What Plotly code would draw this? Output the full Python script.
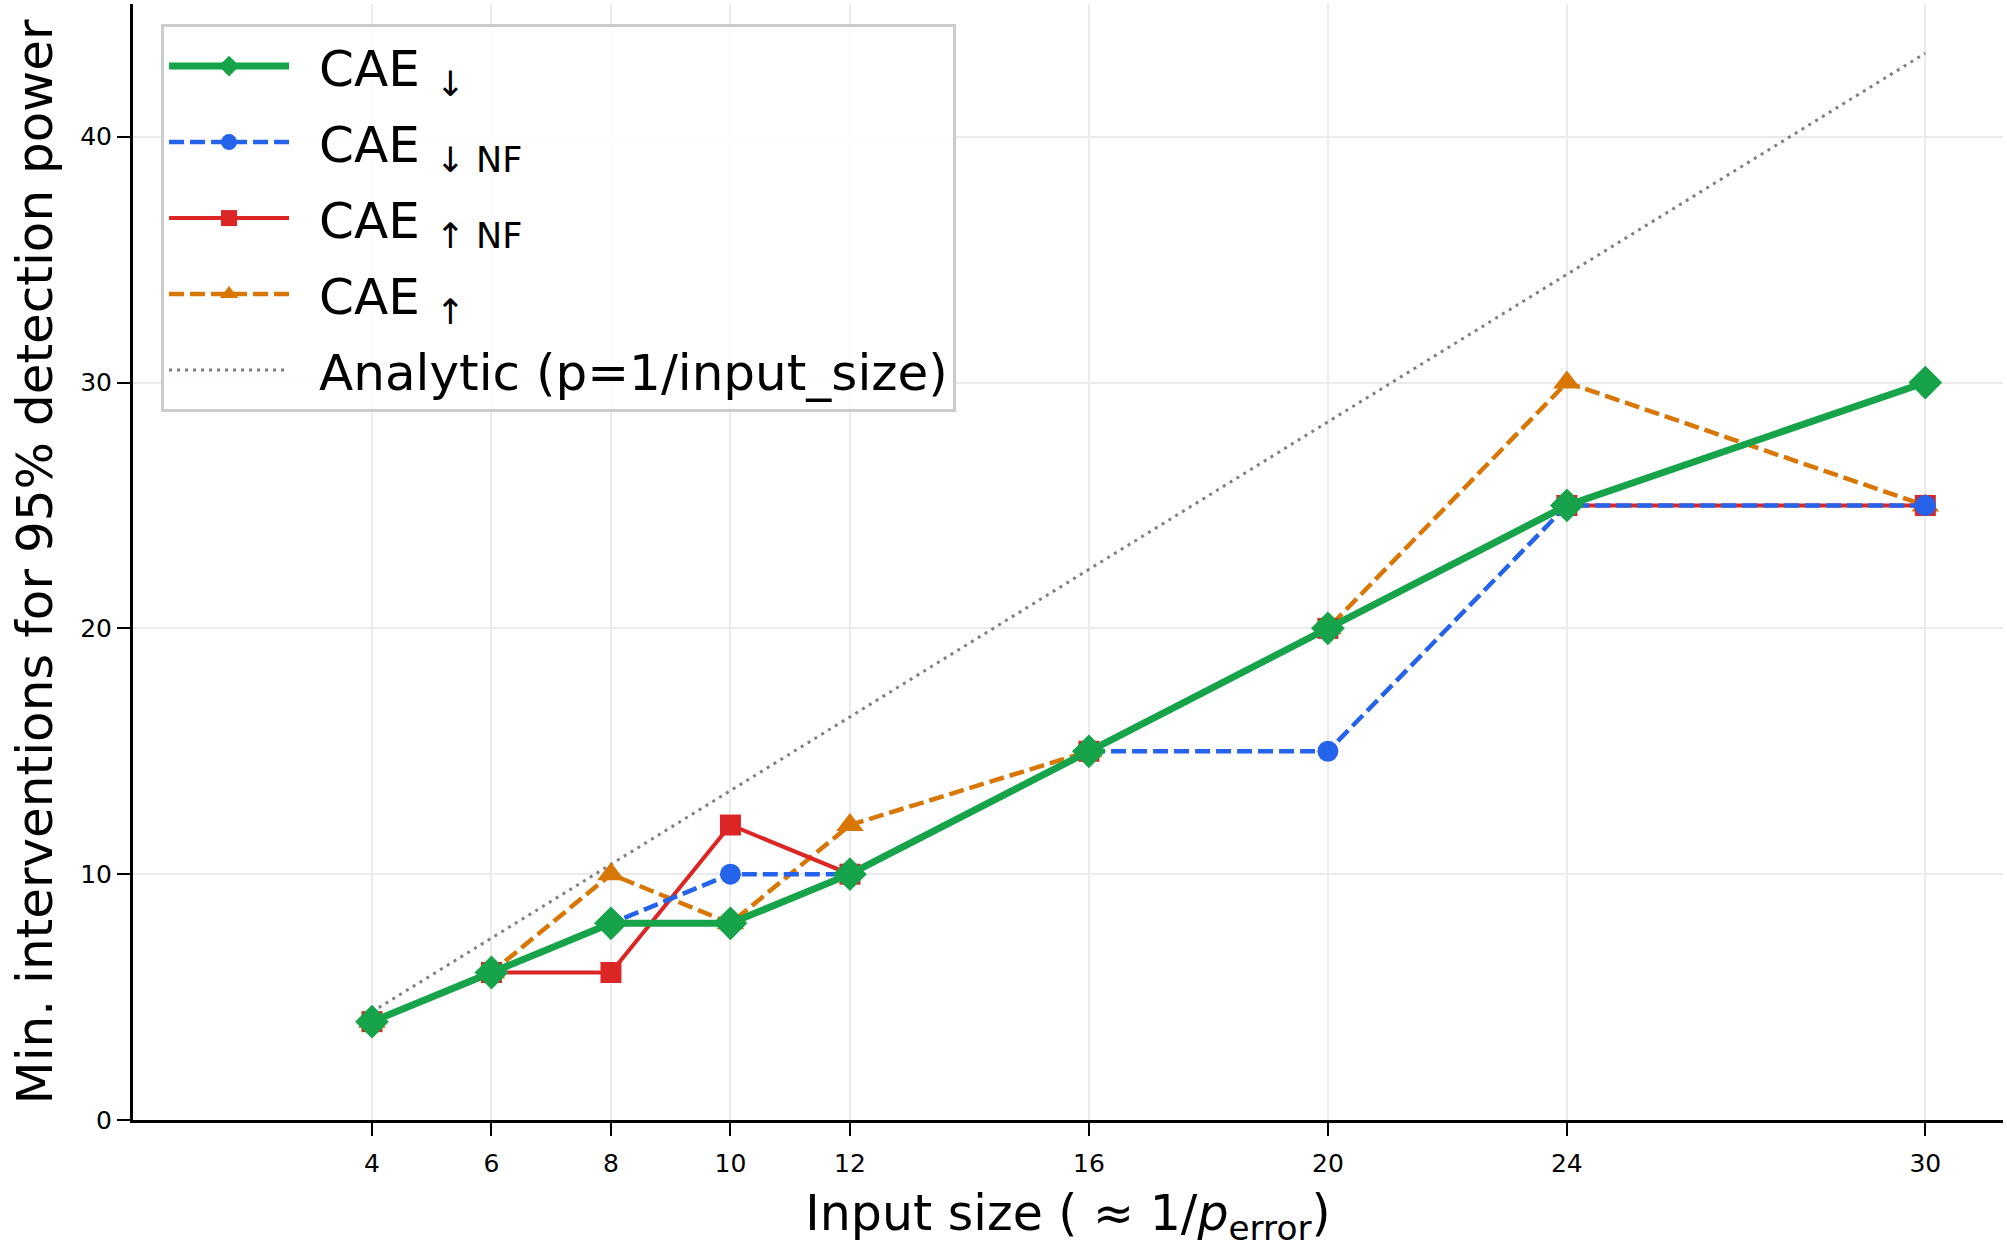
import plotly.graph_objects as go

# ---- data ----
input_size = [4, 6, 8, 10, 12, 16, 20, 24, 30]
cae_down = [4, 6, 8, 8, 10, 15, 20, 25, 30]
cae_down_nf = [4, 6, 8, 10, 10, 15, 15, 25, 25]
cae_up_nf = [4, 6, 6, 12, 10, 15, 20, 25, 25]
cae_up = [4, 6, 10, 8, 12, 15, 20, 30, 25]
analytic = [4.4, 7.4, 10.4, 13.4, 16.4, 22.4, 28.4, 34.4, 43.4]
x_ticks = [4, 6, 8, 10, 12, 16, 20, 24, 30]
y_ticks = [0, 10, 20, 30, 40]

FONT = "DejaVu Sans"
GREEN = "#16a34a"
BLUE = "#2563eb"
RED = "#dc2626"
ORANGE = "#d97706"
GRAY = "#808080"
SP = "\u2002"

fig = go.Figure()

fig.add_trace(go.Scatter(
    x=input_size, y=analytic, mode="lines", name=SP + "Analytic (p=1/input_size)",
    line=dict(color=GRAY, width=3, dash="3px,5px"), legendrank=5, legendgroup="e"))
fig.add_trace(go.Scatter(
    x=input_size, y=cae_up, mode="lines+markers", name=SP + "CAE <sub>↑</sub>",
    line=dict(color=ORANGE, width=4.5, dash="15px,6px"),
    marker=dict(symbol="triangle-up", size=24, color=ORANGE), legendrank=4, legendgroup="d"))
fig.add_trace(go.Scatter(
    x=input_size, y=cae_up_nf, mode="lines+markers", name=SP + "CAE <sub>↑ NF</sub>",
    line=dict(color=RED, width=4),
    marker=dict(symbol="square", size=21, color=RED), legendrank=3, legendgroup="c"))
fig.add_trace(go.Scatter(
    x=input_size, y=cae_down_nf, mode="lines+markers", name=SP + "CAE <sub>↓ NF</sub>",
    line=dict(color=BLUE, width=4.5, dash="15px,6px"),
    marker=dict(symbol="circle", size=21, color=BLUE), legendrank=2, legendgroup="b"))
fig.add_trace(go.Scatter(
    x=input_size, y=cae_down, mode="lines+markers", name=SP + "CAE <sub>↓</sub>",
    line=dict(color=GREEN, width=7),
    marker=dict(symbol="diamond", size=26, color=GREEN), legendrank=1, legendgroup="a"))

fig.update_layout(
    width=2007, height=1248,
    margin=dict(l=133, r=4, t=4, b=128),
    paper_bgcolor="white", plot_bgcolor="white",
    font=dict(family=FONT, color="black"),
    showlegend=True,
    legend=dict(
        x=0.015, y=0.982, xanchor="left", yanchor="top",
        font=dict(family=FONT, size=50, color="black"),
        bgcolor="rgba(255,255,255,0.85)", bordercolor="#cccccc", borderwidth=3,
        itemwidth=120, tracegroupgap=8, traceorder="grouped",
    ),
    xaxis=dict(
        range=[0, 31.3], tickvals=x_ticks, ticktext=[str(v) for v in x_ticks],
        showgrid=True, gridcolor="#ebebeb", gridwidth=2, zeroline=False,
        showline=True, linecolor="black", linewidth=3,
        ticks="outside", ticklen=13, tickwidth=2, tickcolor="black",
        tickfont=dict(family=FONT, size=25), ticklabelstandoff=6,
        title=dict(text="Input size ( ≈ 1/<i>p</i><sub>error</sub>)",
                   font=dict(family=FONT, size=49), standoff=30),
    ),
    yaxis=dict(
        range=[0, 45.4], tickvals=y_ticks,
        showgrid=True, gridcolor="#ebebeb", gridwidth=2, zeroline=False,
        showline=True, linecolor="black", linewidth=3,
        ticks="outside", ticklen=13, tickwidth=2, tickcolor="black",
        tickfont=dict(family=FONT, size=25),
        title=dict(text="Min. interventions for 95% detection power",
                   font=dict(family=FONT, size=50), standoff=12),
    ),
)

fig.write_html("out.html")
